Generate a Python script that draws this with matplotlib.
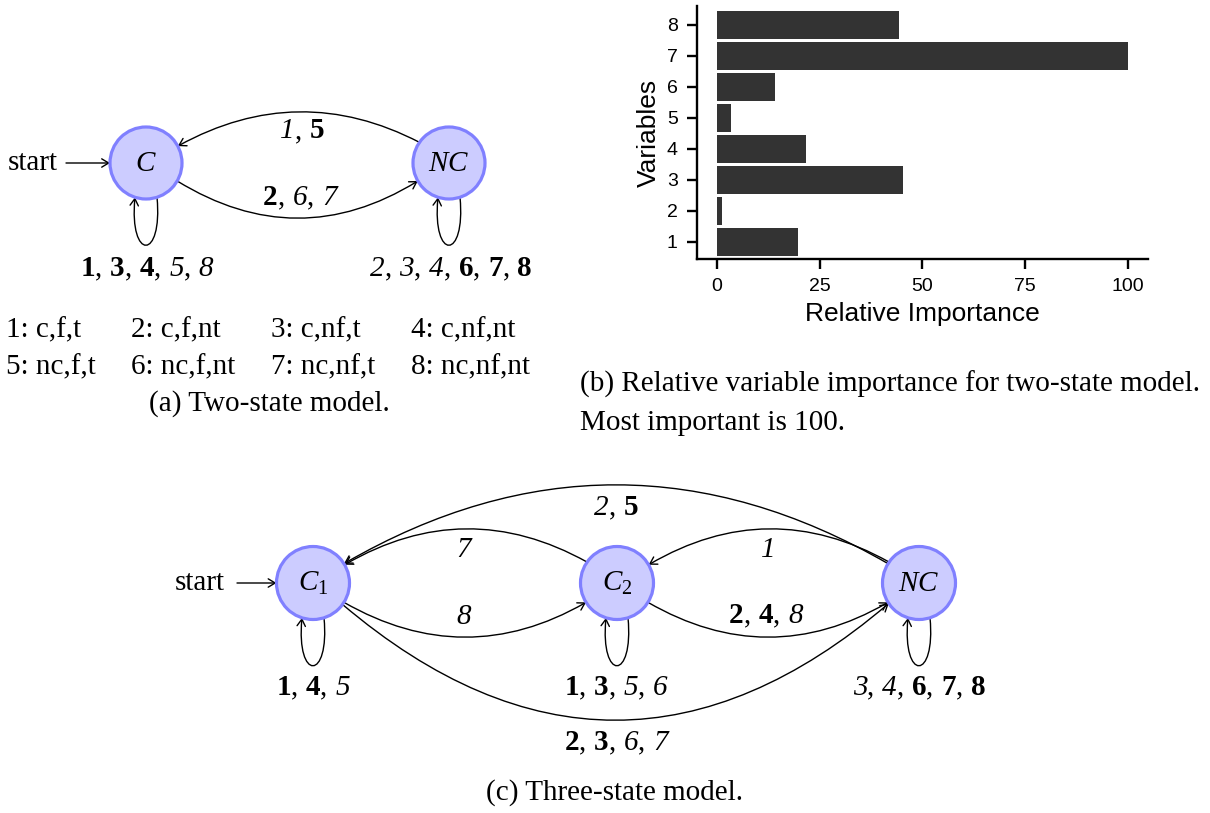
import matplotlib
matplotlib.use('Agg')
import numpy as np
import matplotlib.pyplot as plt
from matplotlib.patches import Circle, FancyArrowPatch
from matplotlib.path import Path
from matplotlib.offsetbox import TextArea, HPacker, AnnotationBbox

# node names use mathtext in a Times-like font
plt.rcParams['mathtext.fontset'] = 'custom'
plt.rcParams['mathtext.rm'] = 'Liberation Serif'
plt.rcParams['mathtext.it'] = 'Liberation Serif:italic'
plt.rcParams['mathtext.bf'] = 'Liberation Serif:bold'

# bar chart (b)
variables = ['1', '2', '3', '4', '5', '6', '7', '8']
importance = [19.7, 1.3, 45.3, 21.6, 3.5, 14.2, 100, 44.4]
x_ticks = [0, 25, 50, 75, 100]

# variable codes listed under (a)
codes = ['c,f,t', 'c,f,nt', 'c,nf,t', 'c,nf,nt',
         'nc,f,t', 'nc,f,nt', 'nc,nf,t', 'nc,nf,nt']

# transition labels: (variable, 'b' bold / 'i' italic)
two_c_to_nc = [(2, 'b'), (6, 'i'), (7, 'i')]
two_nc_to_c = [(1, 'i'), (5, 'b')]
two_c_loop = [(1, 'b'), (3, 'b'), (4, 'b'), (5, 'i'), (8, 'i')]
two_nc_loop = [(2, 'i'), (3, 'i'), (4, 'i'), (6, 'b'), (7, 'b'), (8, 'b')]

three_nc_to_c1 = [(2, 'i'), (5, 'b')]
three_c2_to_c1 = [(7, 'i')]
three_nc_to_c2 = [(1, 'i')]
three_c1_to_c2 = [(8, 'i')]
three_c2_to_nc = [(2, 'b'), (4, 'b'), (8, 'i')]
three_c1_to_nc = [(2, 'b'), (3, 'b'), (6, 'i'), (7, 'i')]
three_c1_loop = [(1, 'b'), (4, 'b'), (5, 'i')]
three_c2_loop = [(1, 'b'), (3, 'b'), (5, 'i'), (6, 'i')]
three_nc_loop = [(3, 'i'), (4, 'i'), (6, 'b'), (7, 'b'), (8, 'b')]

FILL = '#ccccff'
EDGE = '#8080ff'
SERIF = 'Liberation Serif'
FS = 21
ARROW = '->,head_length=0.5,head_width=0.3'


def label(ax, xy, items):
    # numbers in bold or italic, separated by ", "
    groups = []
    for k, (n, s) in enumerate(items):
        props = dict(family=SERIF, size=FS, color='black')
        if s == 'b':
            props['weight'] = 'bold'
        else:
            props['style'] = 'italic'
        parts = [TextArea(str(n), textprops=props)]
        if k < len(items) - 1:
            parts.append(TextArea(',', textprops=dict(family=SERIF, size=FS)))
        groups.append(HPacker(children=parts, sep=0, pad=0, align='baseline'))
    box = HPacker(children=groups, sep=5.5, pad=0, align='baseline')
    ab = AnnotationBbox(box, xy, frameon=False, box_alignment=(0.5, 0.5),
                        pad=0, annotation_clip=False)
    ax.add_artist(ab)


def on_circle(c, r, ang):
    a = np.radians(ang)
    return (c[0] + r * np.cos(a), c[1] - r * np.sin(a))


def arrow_path(verts, codes_):
    return FancyArrowPatch(path=Path(verts, codes_), arrowstyle=ARROW,
                           mutation_scale=10, lw=1.0, color='black')


def arc(ax, p0, p2, peak_y):
    cx = (p0[0] + p2[0]) / 2
    cy = 2 * peak_y - (p0[1] + p2[1]) / 2
    ax.add_patch(arrow_path([p0, (cx, cy), p2],
                            [Path.MOVETO, Path.CURVE3, Path.CURVE3]))


def loop(ax, c, r, depth=62, dx=11):
    dy = np.sqrt(r * r - dx * dx)
    p0 = (c[0] + dx, c[1] + dy)
    p3 = (c[0] - dx, c[1] + dy)
    c1 = (c[0] + 17, c[1] + r + depth)
    c2 = (c[0] - 17, c[1] + r + depth)
    ax.add_patch(arrow_path([p0, c1, c2, p3],
                            [Path.MOVETO, Path.CURVE4, Path.CURVE4, Path.CURVE4]))


def node(ax, c, r, text):
    ax.add_patch(Circle(c, r, facecolor=FILL, edgecolor=EDGE, lw=2.3, zorder=3))
    ax.text(c[0], c[1], text, ha='center', va='center', fontsize=FS, zorder=4)


def start(ax, x_text, x0, c, r):
    ax.text(x_text, c[1], 'start', ha='center', va='center',
            fontsize=FS, family=SERIF)
    ax.add_patch(FancyArrowPatch((x0, c[1]), (c[0] - r, c[1]),
                                 arrowstyle=ARROW, mutation_scale=10, lw=1.0,
                                 color='black', shrinkA=0, shrinkB=0))


fig = plt.figure(figsize=(12.1, 8.13), dpi=100)
ax = fig.add_axes([0, 0, 1, 1])
ax.set_xlim(0, 1210)
ax.set_ylim(813, 0)
ax.axis('off')

# ---- (a) two-state model ----
R = 36
C = (146, 163)
NC = (449, 163)
node(ax, C, R, '$C$')
node(ax, NC, R, '$NC$')
start(ax, 33, 66, C, R)
arc(ax, on_circle(NC, R, 145), on_circle(C, R, 28), 112)
arc(ax, on_circle(C, R, -30), on_circle(NC, R, 210), 218)
loop(ax, C, R)
loop(ax, NC, R)
label(ax, (302, 131), two_nc_to_c)
label(ax, (300, 197), two_c_to_nc)
label(ax, (147, 268), two_c_loop)
label(ax, (451, 268), two_nc_loop)

col_x = [6, 131, 271, 411]
row_y = [330, 367]
for i, code in enumerate(codes):
    ax.text(col_x[i % 4], row_y[i // 4], '%d: %s' % (i + 1, code),
            ha='left', va='center', fontsize=FS, family=SERIF)
ax.text(269, 404, '(a) Two-state model.', ha='center', va='center',
        fontsize=FS, family=SERIF)

# ---- (b) caption ----
ax.text(580, 384, '(b) Relative variable importance for two-state model.',
        ha='left', va='center', fontsize=FS, family=SERIF)
ax.text(580, 423, 'Most important is 100.', ha='left', va='center',
        fontsize=FS, family=SERIF)

# ---- (c) three-state model ----
R3 = 36.5
C1 = (313, 583)
C2 = (617, 583)
N3 = (919, 583)
node(ax, C1, R3, '$C_1$')
node(ax, C2, R3, '$C_2$')
node(ax, N3, R3, '$NC$')
start(ax, 200, 237, C1, R3)
arc(ax, on_circle(N3, R3, 148), on_circle(C1, R3, 32), 485)
arc(ax, on_circle(C2, R3, 145), on_circle(C1, R3, 30), 529)
arc(ax, on_circle(N3, R3, 145), on_circle(C2, R3, 30), 529)
arc(ax, on_circle(C1, R3, -32), on_circle(C2, R3, 212), 637)
arc(ax, on_circle(C2, R3, -32), on_circle(N3, R3, 212), 637)
arc(ax, on_circle(C1, R3, -36), on_circle(N3, R3, 214), 720)
loop(ax, C1, R3)
loop(ax, C2, R3)
loop(ax, N3, R3)
label(ax, (616, 507), three_nc_to_c1)
label(ax, (464, 550), three_c2_to_c1)
label(ax, (768, 550), three_nc_to_c2)
label(ax, (464, 617), three_c1_to_c2)
label(ax, (766, 615), three_c2_to_nc)
label(ax, (616, 742), three_c1_to_nc)
label(ax, (313, 687), three_c1_loop)
label(ax, (616, 687), three_c2_loop)
label(ax, (919, 687), three_nc_loop)
ax.text(615, 793, '(c) Three-state model.', ha='center', va='center',
        fontsize=FS, family=SERIF)

# ---- (b) bar chart ----
ax2 = fig.add_axes([0.5757, 0.6814, 0.3731, 0.3113])
ypos = np.arange(1, len(variables) + 1)
ax2.barh(ypos, importance, height=0.9, color='#333333')
ax2.set_yticks(ypos)
ax2.set_yticklabels(variables, family='Liberation Sans')
ax2.set_xticks(x_ticks)
ax2.set_xticklabels([str(t) for t in x_ticks], family='Liberation Sans')
ax2.set_xlim(-5, 105)
ax2.set_ylim(0.45, 8.6)
for s in ['top', 'right']:
    ax2.spines[s].set_visible(False)
for s in ['left', 'bottom']:
    ax2.spines[s].set_linewidth(1.7)
ax2.tick_params(direction='out', length=7.5, width=1.7, labelsize=14, pad=6)
ax2.set_xlabel('Relative Importance', family='Liberation Sans', fontsize=19,
               labelpad=5)
ax2.set_ylabel('Variables', family='Liberation Sans', fontsize=19, labelpad=4)

fig.savefig('out.png', dpi=100)
